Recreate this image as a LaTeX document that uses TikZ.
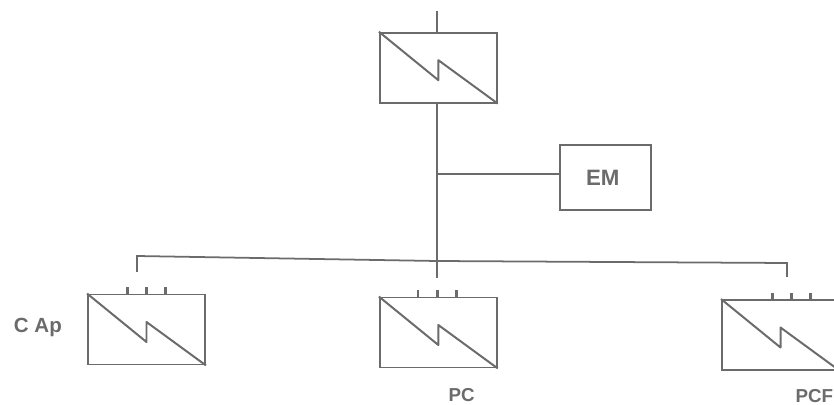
\documentclass[tikz,border=0pt]{standalone}
\usepackage{fontspec}
\setmainfont{Liberation Sans}
\usepackage{tikz}
\usetikzlibrary{calc, positioning}

\definecolor{inkgray}{gray}{0.42}
\tikzset{
    wire/.style={draw=inkgray, line width=1.7pt},
    thinwire/.style={draw=inkgray, line width=1.5pt},
    pinwire/.style={draw=inkgray, line width=2.4pt},
    convbox/.style={draw=inkgray, line width=1.6pt, minimum width=3.51cm, minimum height=2.1cm, inner sep=0pt},
    embox/.style={draw=inkgray, line width=1.6pt, minimum width=2.73cm, minimum height=1.95cm, inner sep=0pt, text=inkgray, font=\bfseries\fontsize{19}{21}\selectfont},
    lbl/.style={text=inkgray, font=\bfseries\fontsize{16}{18}\selectfont, inner sep=0pt}
}
% diagonal with the step in the middle, and the three small terminals
\newcommand{\convmark}[1]{
    \draw[wire, line join=round] (#1.north west) -- ($(#1.center)+(0,-0.375)$) -- ($(#1.center)+(0,0.225)$) -- (#1.south east);
}
\newcommand{\convpins}[2]{
    \foreach \dx in {-0.58,0,0.58} {
        \draw[pinwire] ($(#1.north)+(#2+\dx,0)$) -- ++(0,0.19);
    }
}

\begin{document}
\begin{tikzpicture}
    \useasboundingbox (0,0) rectangle (25.02,12.15);
    \clip (0,0) rectangle (25.02,12.15);

    \node[convbox] (conv) at (13.15,10.12) {};
    \node[embox, right=1.83cm of conv.south east, anchor=north west, yshift=-1.22cm] (em) {\kern-0.15cm EM};
    \node[convbox] (cap) at (4.395,2.265) {};
    \node[convbox] (pc) at (13.15,2.175) {};
    \node[convbox] (pcr) at (23.415,2.10) {};

    \node[lbl, font=\bfseries\fontsize{17.5}{19}\selectfont, left=0.75cm of cap, yshift=0.05cm] (caplbl) {C Ap};
    \node[lbl] (pclbl) at (13.85,0.3) {PC};
    \node[lbl, anchor=west] (pcrlbl) at (23.86,0.28) {PCF};

    \coordinate (top) at (13.1,11.82);
    \coordinate (busmid) at (13.1,4.32);
    \coordinate (busend) at (13.1,3.82);
    \coordinate (tap) at (13.1,6.93);
    \coordinate (busl) at (4.11,4.47);
    \coordinate (busld) at (4.11,3.99);
    \coordinate (busr) at (23.61,4.26);
    \coordinate (busrd) at (23.61,3.84);

    \draw[wire] (top) -- (conv.north -| top);
    \draw[wire] (conv.south -| top) -- (busend);
    \draw[wire] (tap) -- (em.west |- tap);
    \draw[thinwire] (busld) -- (busl) -- (busmid) -- (busr) -- (busrd);

    \convmark{conv}
    \convmark{cap}
    \convmark{pc}
    \convmark{pcr}
    \convpins{cap}{0}
    \convpins{pc}{-0.03}
    \convpins{pcr}{0.33}
\end{tikzpicture}
\end{document}
